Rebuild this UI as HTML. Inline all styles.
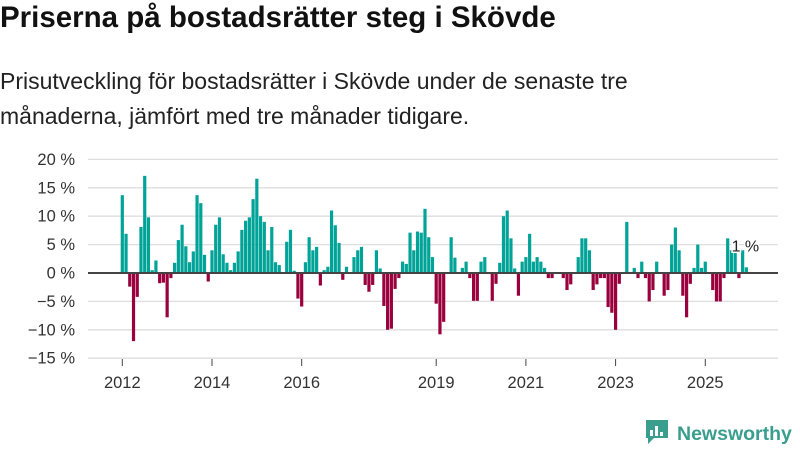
<!DOCTYPE html>
<html><head><meta charset="utf-8"><style>
body{margin:0;width:800px;height:450px;background:#fff;font-family:"Liberation Sans",sans-serif;overflow:hidden;position:relative}
#title{position:absolute;left:0;top:1px;font-size:29.5px;font-weight:bold;color:#111;margin:0;white-space:nowrap}
#sub{position:absolute;left:0;top:64px;font-size:23px;line-height:35px;color:#222;margin:0;width:700px}
svg{position:absolute;left:0;top:0}
</style></head><body>
<h1 id="title">Priserna på bostadsrätter steg i Skövde</h1>
<p id="sub">Prisutveckling för bostadsrätter i Skövde under de senaste tre<br>månaderna, jämfört med tre månader tidigare.</p>
<svg id="chart" width="800" height="450"></svg>
<script>
const values = [13.7,6.9,-2.4,-12,-4.2,8.1,17.1,9.8,0.5,2.2,-1.8,-1.7,-7.8,-0.9,1.8,5.8,8.5,4.7,1.9,3.8,13.7,12.3,3.2,-1.5,4,8.5,9.8,3.3,1.8,0.5,1.8,3.8,
7.6,9.2,9.8,13,16.6,10,9,4,8.1,1.9,1.4,0,5.5,7.6,0.4,-4.5,-5.9,1.9,6.3,4,4.6,-2.2,0.5,1.1,11,8.4,5.3,-1.2,1.1,0,2.8,4,4.6,
-2.1,-3.3,-2.1,4,0.8,-5.8,-10,-9.8,-2.8,-0.9,2,1.6,7.1,4,7.3,7.1,11.3,6.3,2.8,-5.4,-10.8,-8.6,0,6.3,2.7,0,0.9,2,-0.9,-4.9,-4.9,2,2.8,
0,-4.9,-1.9,1.8,10,11,6.1,0.8,-4,2,2.8,6.9,2,2.8,2,0.9,-0.9,-0.9,0,0,-0.9,-3,-2,0,2.8,6.1,6.1,4,-3,-2,-0.9,-0.9,-6,-7,-10,
-1.9,0,9,0,0.9,-0.9,2,-0.9,-5,-3,2,0,-4,-3,5,8,4,-4,-7.8,-1.9,0.9,5,0.9,2,0,-3,-5,-5,-0.9,6.1,4,3.5,-0.9,4,1];
const startYear = 2012;
const yTicks = [20,15,10,5,0,-5,-10,-15];
const yearTicks = [2012,2014,2016,2019,2021,2023,2025];
const lastLabel = "1 %";

const NS="http://www.w3.org/2000/svg";
const svg=document.getElementById('chart');
function x(i){return 122.3+i*3.737;}
function y(v){return 273-v*5.68;}
function mk(t,a){const e=document.createElementNS(NS,t);for(const k in a)e.setAttribute(k,a[k]);svg.appendChild(e);return e;}
yTicks.forEach(v=>{
  const l=mk('line',{x1:88,x2:778,y1:y(v),y2:y(v),stroke:v===0?'#444':'#dedede','stroke-width':v===0?2:1.3});
  
  
  const t=mk('text',{x:75,y:y(v)+5.5,'text-anchor':'end','font-size':16.5,fill:'#333'});
  t.textContent=(v<0?'−'+(-v):v)+' %';
  
  
});
values.forEach((v,i)=>{
  if(v===0)return;
  const r=mk('rect',{x:x(i)-1.6,width:3.2,y:Math.min(y(v),y(0)),height:Math.abs(y(v)-y(0)),fill:v>0?'#00a398':'#99003d'});
  
  
});
const z=mk('line',{x1:88,x2:778,y1:y(0),y2:y(0),stroke:'#444','stroke-width':2});


yearTicks.forEach(yr=>{
  const i=(yr-startYear)*12;
  const tk=mk('line',{x1:x(i),x2:x(i),y1:359,y2:366,stroke:'#444','stroke-width':1});
  
  
  const t=mk('text',{x:x(i),y:388,'text-anchor':'middle','font-size':16.5,fill:'#333'});
  t.textContent=yr;
  
  
});
const li=values.length-1;
const lt=mk('text',{x:x(li)-1,y:y(values[li])-16,'text-anchor':'middle','font-size':16,fill:'#222',stroke:'#fff','stroke-width':3,'paint-order':'stroke'});
lt.textContent=lastLabel;


const g=mk('g',{});


const ic=document.createElementNS(NS,'path');
ic.setAttribute('d','M646 420h22v18h-14l-6 6v-6h-2z');
ic.setAttribute('fill','#3a9e8f');
g.appendChild(ic);
[[650,430,3,6],[655,426,3,10],[660,432,3,4]].forEach(b=>{const r=document.createElementNS(NS,'rect');r.setAttribute('x',b[0]);r.setAttribute('y',b[1]);r.setAttribute('width',b[2]);r.setAttribute('height',b[3]);r.setAttribute('fill','#fff');g.appendChild(r);});
const lg=document.createElementNS(NS,'text');
lg.setAttribute('x',677);lg.setAttribute('y',440);lg.setAttribute('font-size',19.5);lg.setAttribute('font-weight','bold');lg.setAttribute('fill','#3a9e8f');
lg.textContent='Newsworthy';
g.appendChild(lg);
</script>
</body></html>
